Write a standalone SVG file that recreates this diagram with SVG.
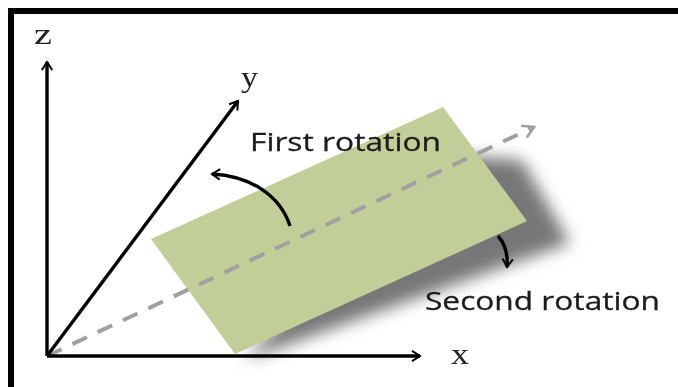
<svg xmlns="http://www.w3.org/2000/svg" width="678" height="387" viewBox="0 0 678 387">
<style>
.lbl{font-family:"Open Sans","DejaVu Sans",sans-serif;font-size:25px;fill:#1c1c1c;stroke:#1c1c1c;stroke-width:.3}
.ax{font-family:"Liberation Serif",serif;font-size:30px;fill:#222}
.axis{fill:none;stroke:#000;stroke-width:3.4;stroke-linecap:butt}
.dash{fill:none;stroke:#a0a0a0;stroke-width:4}
</style>
<defs>
<filter id="shadow" x="-20%" y="-20%" width="140%" height="140%"><feGaussianBlur stdDeviation="8"/></filter>
<filter id="soft" filterUnits="userSpaceOnUse" x="0" y="0" width="678" height="387"><feGaussianBlur stdDeviation="0.6"/></filter>
<marker id="head" viewBox="0 0 14 14" refX="12" refY="7" markerWidth="14" markerHeight="14" markerUnits="userSpaceOnUse" orient="auto"><path d="M4 1.8L12 7L4 12.2" fill="none" stroke="#000" stroke-width="2"/></marker>
<marker id="headGrey" viewBox="0 0 18 18" refX="16" refY="9" markerWidth="18" markerHeight="18" markerUnits="userSpaceOnUse" orient="auto"><path d="M5 2.5L16 9L5 15.5" fill="none" stroke="#a0a0a0" stroke-width="2.6"/></marker>
</defs>
<rect width="678" height="387" fill="#fff"/>
<g id="frame" fill="#000"><rect x="8" y="8" width="670" height="6"/><rect x="8" y="8" width="6" height="379"/></g>
<g id="plane">
<polygon points="245,360 570,243 522,160 470,156 300,300" fill="#777" filter="url(#shadow)"/>
<polygon points="443,107 527,221 235,354 151,239" fill="#c2ce98"/>
</g>
<g id="connectors" filter="url(#soft)">
<path class="dash" d="M47 356L534 127" stroke-dasharray="16 12" marker-end="url(#headGrey)"/>
<path class="axis" d="M47 356V62" marker-end="url(#head)"/>
<path class="axis" d="M47 356L238 101" marker-end="url(#head)"/>
<path class="axis" d="M47 356H420" marker-end="url(#head)"/>
<path class="axis" d="M290 226C280 195 250 176 212 174" marker-end="url(#head)"/>
<path class="axis" d="M498 236C506 245 508 255 507 267" marker-end="url(#head)"/>
</g>
<g id="labels" filter="url(#soft)">
<g id="label-z"><text class="ax" x="34" y="44" textLength="18" lengthAdjust="spacingAndGlyphs">z</text></g>
<g id="label-y"><text class="ax" x="241" y="87" textLength="17" lengthAdjust="spacingAndGlyphs">y</text></g>
<g id="label-x"><text class="ax" x="451" y="364" textLength="18" lengthAdjust="spacingAndGlyphs">x</text></g>
<g id="label-first"><text class="lbl" x="250" y="151" textLength="191" lengthAdjust="spacingAndGlyphs">First rotation</text></g>
<g id="label-second"><text class="lbl" x="425" y="310" textLength="235" lengthAdjust="spacingAndGlyphs">Second rotation</text></g>
</g>
</svg>
